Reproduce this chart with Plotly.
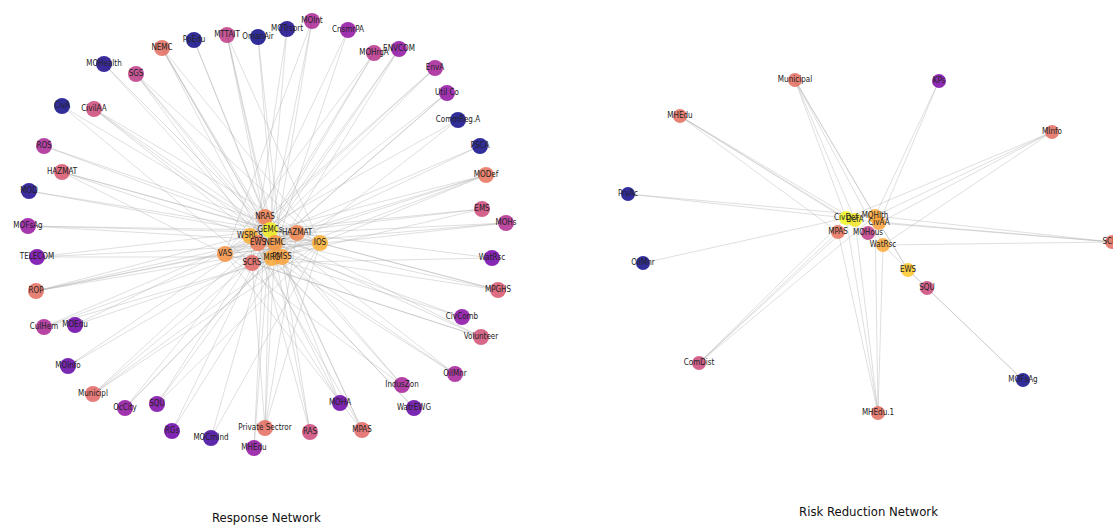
import plotly.graph_objects as go

# ---------------- Response Network (left) ----------------
L_ids = ["NEMC_o", "PpEdu", "MTTAIT", "OmanAir", "MOTrsprt", "MOInt", "CnsmrPA", "MOHrgA",
         "ENVCOM", "EnvA", "UtilCo", "CommReg", "PSCA", "MODef", "EMS", "MOHs", "WatRsc",
         "MPGHS", "CivComb", "Volunteer", "OilMnr", "IndusZon", "WatrEWG", "MOHA", "MPAS",
         "RAS", "Private", "MHEdu", "MOComInd", "RGs", "SQU", "OcCity", "Municipl", "MOInfo",
         "CulHem", "MOEdu", "ROP", "TELECOM", "MOFsAg", "MOD", "HAZMAT_o", "ROS", "CivilAA",
         "CivA", "MOHealth", "SGS",
         "NRAS", "GEMC", "WSRC", "EWS", "NEMC", "HAZ", "IOS", "VAS", "SCRS", "MRG", "PMSS"]
L_labels = ["NEMC", "PpEdu", "MTTAIT", "OmanAir", "MOTrsprt", "MOInt", "CnsmrPA", "MOHrgA",
            "ENVCOM", "EnvA", "Util Co", "CommReg.A", "PSCA", "MODef", "EMS", "MOHs", "WatRsc",
            "MPGHS", "CivComb", "Volunteer", "OilMnr", "IndusZon", "WatrEWG", "MOHA", "MPAS",
            "RAS", "Private Sectror", "MHEdu", "MOCmInd", "RGs", "SQU", "OcCity", "Municipl", "MOInfo",
            "CulHem", "MOEdu", "ROP", "TELECOM", "MOFsAg", "MOD", "HAZMAT", "ROS", "CivilAA",
            "CivA", "MOHealth", "SGS",
            "NRAS", "GEMCs", "WSRCS", "EWS", "NEMC", "HAZMAT", "IOS", "VAS", "SCRS", "MRG", "PMSS"]
L_x = [162, 194, 227, 258, 287, 312, 348, 374, 399, 435, 447, 458, 480, 486, 482, 506, 492,
       498, 462, 481, 455, 402, 414, 340, 362, 310, 265, 254, 211, 172, 157, 125, 93, 68,
       44, 75, 36, 37, 28, 29, 62, 44, 94, 62, 104, 136,
       265, 270, 250, 258, 275, 297, 320, 225, 252, 272, 282]
L_y = [48, 40, 35, 37, 29, 21, 30, 53, 49, 68, 93, 120, 146, 175, 209, 223, 258,
       290, 317, 337, 374, 385, 408, 403, 430, 432, 428, 448, 438, 431, 404, 408, 394, 366,
       327, 325, 291, 257, 226, 191, 172, 146, 109, 106, 64, 74,
       217, 230, 236, 243, 243, 233, 243, 254, 263, 258, 257]
L_val = [0.62, 0.0, 0.45, 0.0, 0.02, 0.38, 0.3, 0.42, 0.3, 0.36, 0.3, 0.0, 0.0, 0.64, 0.5, 0.4, 0.22,
         0.55, 0.28, 0.52, 0.36, 0.36, 0.18, 0.2, 0.6, 0.5, 0.62, 0.3, 0.1, 0.2, 0.25, 0.3, 0.6, 0.18,
         0.38, 0.2, 0.62, 0.22, 0.32, 0.02, 0.55, 0.38, 0.5, 0.0, 0.02, 0.45,
         0.68, 0.98, 0.82, 0.66, 0.75, 0.7, 0.82, 0.74, 0.6, 0.8, 0.78]
L_links = {
    "NEMC_o": "GEMC NEMC MRG PMSS IOS", "PpEdu": "GEMC PMSS", "MTTAIT": "GEMC NEMC MRG IOS",
    "OmanAir": "NEMC PMSS", "MOTrsprt": "GEMC SCRS", "MOInt": "GEMC VAS NEMC",
    "CnsmrPA": "WSRC MRG", "MOHrgA": "GEMC VAS EWS", "ENVCOM": "GEMC SCRS MRG",
    "EnvA": "VAS WSRC GEMC", "UtilCo": "GEMC NEMC SCRS", "CommReg": "WSRC PMSS",
    "PSCA": "VAS NEMC", "MODef": "GEMC VAS NEMC SCRS IOS", "EMS": "GEMC WSRC MRG",
    "MOHs": "VAS NEMC HAZ", "WatRsc": "GEMC SCRS", "MPGHS": "GEMC WSRC PMSS IOS",
    "CivComb": "EWS MRG", "Volunteer": "GEMC VAS NEMC SCRS", "OilMnr": "GEMC WSRC MRG",
    "IndusZon": "GEMC NEMC VAS", "WatrEWG": "WSRC MRG", "MOHA": "GEMC SCRS EWS",
    "MPAS": "GEMC NEMC WSRC VAS", "RAS": "GEMC EWS PMSS", "Private": "GEMC NEMC WSRC IOS HAZ",
    "MHEdu": "GEMC NRAS", "MOComInd": "GEMC IOS", "RGs": "GEMC HAZ", "SQU": "GEMC NEMC IOS",
    "OcCity": "GEMC HAZ MRG", "Municipl": "GEMC NEMC IOS PMSS", "MOInfo": "GEMC HAZ",
    "CulHem": "GEMC NEMC PMSS", "MOEdu": "GEMC IOS", "ROP": "GEMC NEMC VAS IOS HAZ",
    "TELECOM": "GEMC IOS PMSS", "MOFsAg": "GEMC HAZ IOS", "MOD": "GEMC IOS",
    "HAZMAT_o": "GEMC NEMC VAS IOS", "ROS": "GEMC HAZ", "CivilAA": "GEMC NEMC IOS PMSS",
    "CivA": "GEMC SCRS", "MOHealth": "GEMC PMSS", "SGS": "GEMC NEMC MRG IOS",
    "VAS": "GEMC IOS", "HAZ": "GEMC SCRS", "NRAS": "IOS PMSS",
}

# ---------------- Risk Reduction Network (right) ----------------
R_ids = ["Municipal", "MHEdu", "KPs", "MInfo", "PrvAc", "OilMnr", "ComDist", "MHEdu1", "MOFsAg",
         "SQU", "EWS", "WatRsc", "MOHous", "MPAS", "CivDef", "DefA", "MOHlth", "CivAA", "SCRS"]
R_labels = ["Municipal", "MHEdu", "KPs", "MInfo", "PrvAc", "OilMnr", "ComDist", "MHEdu.1", "MOFsAg",
            "SQU", "EWS", "WatRsc", "MOHous", "MPAS", "CivDef", "DefA", "MOHlth", "CivAA", "SCRS"]
R_x = [795, 680, 939, 1052, 628, 643, 699, 878, 1023, 927, 908, 883, 868, 838, 846, 855, 875, 879, 1112]
R_y = [80, 116, 81, 132, 194, 263, 363, 413, 380, 288, 270, 245, 233, 232, 218, 220, 216, 223, 242]
R_val = [0.62, 0.62, 0.25, 0.62, 0.0, 0.0, 0.5, 0.62, 0.0, 0.5, 0.88, 0.8, 0.45, 0.64, 1.0, 0.96, 0.8, 0.78, 0.62]
R_links = {
    "Municipal": "CivDef DefA MOHlth CivAA WatRsc", "MHEdu": "CivDef MPAS DefA MOHous",
    "PrvAc": "CivDef MOHlth", "OilMnr": "CivDef", "ComDist": "CivDef MPAS DefA MOHlth",
    "MHEdu1": "CivDef MPAS MOHlth WatRsc DefA", "KPs": "MOHlth CivAA",
    "MInfo": "CivDef MOHlth CivAA WatRsc", "SCRS": "CivAA MOHlth WatRsc DefA",
    "MOFsAg": "SQU EWS", "SQU": "EWS", "EWS": "WatRsc CivAA MOHlth",
}

TITLES = ["Response Network", "Risk Reduction Network"]
TITLE_X = [266, 868]
TITLE_Y = [517, 511]


def edge_coords(ids, xs, ys, links):
    pos = {i: (x, y) for i, x, y in zip(ids, xs, ys)}
    ex, ey = [], []
    for src, tgts in links.items():
        for t in tgts.split():
            ex += [pos[src][0], pos[t][0], None]
            ey += [pos[src][1], pos[t][1], None]
    return ex, ey


fig = go.Figure()
for ids, xs, ys, links in [(L_ids, L_x, L_y, L_links), (R_ids, R_x, R_y, R_links)]:
    ex, ey = edge_coords(ids, xs, ys, links)
    fig.add_trace(go.Scatter(x=ex, y=ey, mode="lines",
                             line=dict(color="rgba(175,175,175,0.45)", width=0.9),
                             hoverinfo="skip", showlegend=False))

FONT_FAMILY = "Liberation Sans Narrow, DejaVu Sans Condensed, Arial Narrow, sans-serif"
LABEL_FONT = dict(family=FONT_FAMILY, size=8, color="#222222")
for xs, ys, vals, labels, sz in [(L_x, L_y, L_val, L_labels, 16), (R_x, R_y, R_val, R_labels, 14)]:
    fig.add_trace(go.Scatter(x=xs, y=ys, mode="markers+text", text=labels,
                             textposition="middle center", textfont=LABEL_FONT,
                             marker=dict(size=sz, color=vals, colorscale="Plasma", cmin=0, cmax=1,
                                         opacity=0.85, line=dict(width=0)),
                             hoverinfo="text", showlegend=False))

for t, tx, ty in zip(TITLES, TITLE_X, TITLE_Y):
    fig.add_annotation(x=tx, y=ty, text=t, showarrow=False,
                       font=dict(family=FONT_FAMILY, size=13, color="#111111"))

fig.update_layout(width=1113, height=528, margin=dict(l=0, r=0, t=0, b=0),
                  paper_bgcolor="white", plot_bgcolor="white",
                  xaxis=dict(range=[0, 1113], visible=False, fixedrange=True),
                  yaxis=dict(range=[528, 0], visible=False, fixedrange=True))
fig.write_html("out.html")
